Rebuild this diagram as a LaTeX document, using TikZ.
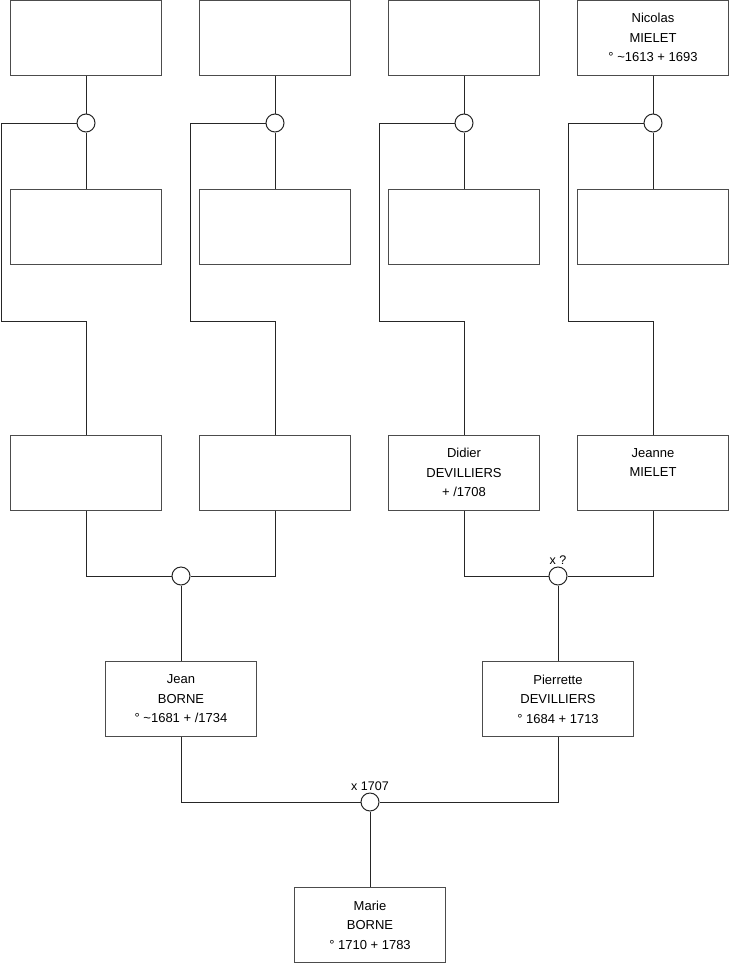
\documentclass[tikz,border=0pt]{standalone}
\usepackage{fontspec}
\setmainfont{Liberation Sans}
\usetikzlibrary{positioning}
\tikzset{
  person/.style={draw=black!70,line width=1pt,minimum width=151pt,minimum height=75pt,
    inner sep=0pt,align=center,font=\fontsize{13}{19.5}\selectfont},
  ring/.style={draw=black!85,fill=white,circle,line width=1pt,minimum size=18pt,inner sep=0pt},
  link/.style={black!85,line width=1pt},
  wed/.style={font=\fontsize{12.5}{14}\selectfont,inner sep=1.5pt}
}
\begin{document}
\begin{tikzpicture}[x=1pt,y=-1pt]
\useasboundingbox (0,0) rectangle (740,975);
% great-grandparents
\node[person] (t1) at (86,37.5) {};
\node[person] (t2) at (275,37.5) {};
\node[person] (t3) at (464,37.5) {};
\node[person] (t4) at (653,37.5) {Nicolas\\MIELET\\° \textasciitilde1613 + 1693};
\node[person] (s1) at (86,227) {};
\node[person] (s2) at (275,227) {};
\node[person] (s3) at (464,227) {};
\node[person] (s4) at (653,227) {};
\node[ring] (c1) at (86,123) {};
\node[ring] (c2) at (275,123) {};
\node[ring] (c3) at (464,123) {};
\node[ring] (c4) at (653,123) {};
\coordinate (k1) at (1,321);
\coordinate (k2) at (190,321);
\coordinate (k3) at (379,321);
\coordinate (k4) at (568,321);
% grandparents
\node[person] (g1) at (86,472.5) {};
\node[person] (g2) at (275,472.5) {};
\node[person] (g3) at (464,472.5) {Didier\\DEVILLIERS\\+ /1708};
\node[person] (g4) at (653,472.5) {Jeanne\\MIELET\\\mbox{}};
\node[ring] (m1) at (181,576) {};
\node[ring,label={[wed]above:x ?}] (m2) at (558,576) {};
% parents
\node[person] (jean) at (181,699) {Jean\\BORNE\\° \textasciitilde1681 + /1734};
\node[person] (pier) at (558,699) {Pierrette\\DEVILLIERS\\° 1684 + 1713};
\node[ring,label={[wed]above:x 1707}] (m3) at (370,802) {};
\node[person] (marie) at (370,925) {Marie\\BORNE\\° 1710 + 1783};
\foreach \i in {1,...,4}{
  \draw[link] (t\i.south) -- (c\i.north) (c\i.south) -- (s\i.north);
  \draw[link] (c\i.west) -| (k\i) -| (g\i.north);
}
\draw[link] (g1.south) |- (m1.west) (g2.south) |- (m1.east);
\draw[link] (g3.south) |- (m2.west) (g4.south) |- (m2.east);
\draw[link] (m1.south) -- (jean.north) (m2.south) -- (pier.north);
\draw[link] (jean.south) |- (m3.west) (pier.south) |- (m3.east);
\draw[link] (m3.south) -- (marie.north);
\end{tikzpicture}
\end{document}
